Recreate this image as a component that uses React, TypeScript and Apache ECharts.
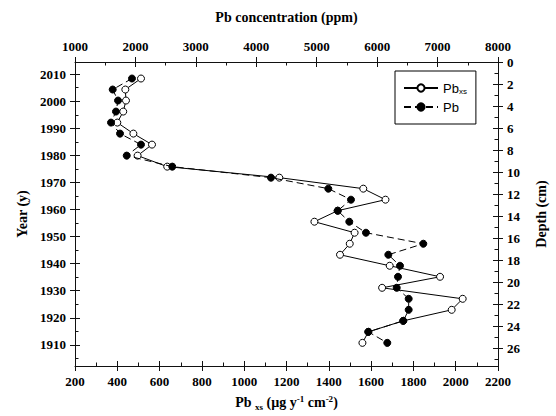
import React, { useEffect, useRef } from "react";
import * as echarts from "echarts";

// Sample mid-depths of the core slices (cm)
const depths = [
  1.5, 2.5, 3.5, 4.5, 5.5, 6.5, 7.5, 8.5, 9.5, 10.5, 11.5, 12.5, 13.5,
  14.5, 15.5, 16.5, 17.5, 18.5, 19.5, 20.5, 21.5, 22.5, 23.5, 24.5, 25.5,
];

// Excess Pb flux (µg y-1 cm-2), bottom axis
const pbxsFlux = [
  512, 438, 441, 428, 400, 476, 564, 496, 636, 1166, 1563, 1668, 1442,
  1332, 1522, 1499, 1453, 1688, 1926, 1652, 2033, 1981, 1752, 1587, 1559,
];

// Total Pb concentration (ppm), top axis
const pbConc = [
  1943, 1624, 1712, 1678, 1596, 1745, 2092, 1856, 2610, 4243, 5192, 5567,
  5347, 5539, 5815, 6764, 6185, 6378, 6345, 6324, 6522, 6522, 6433, 5854,
  6168,
];

// Tick values
const fluxTicks = [200, 400, 600, 800, 1000, 1200, 1400, 1600, 1800, 2000, 2200];
const fluxMinor = [300, 500, 700, 900, 1100, 1300, 1500, 1700, 1900, 2100];
const concTicks = [1000, 2000, 3000, 4000, 5000, 6000, 7000, 8000];
const concMinor = [1500, 2500, 3500, 4500, 5500, 6500, 7500];
const yearTicks = [1910, 1920, 1930, 1940, 1950, 1960, 1970, 1980, 1990, 2000, 2010];
const yearMinor = [1905, 1915, 1925, 1935, 1945, 1955, 1965, 1975, 1985, 1995, 2005];
const depthTicks = [0, 2, 4, 6, 8, 10, 12, 14, 16, 18, 20, 22, 24, 26];
const depthMinor = [1, 3, 5, 7, 9, 11, 13, 15, 17, 19, 21, 23, 25, 27];

const SERIF = "'Liberation Serif', 'Times New Roman', serif";
const SANS = "'Liberation Sans', Arial, sans-serif";
const INK = "#111";

const labelStyle = {
  fontFamily: SERIF,
  fontWeight: "bold" as const,
  fontSize: 13,
  color: "#000",
};

const nameStyle = {
  fontFamily: SERIF,
  fontWeight: "bold" as const,
  fontSize: 14,
  color: "#000",
};

// Main axis: line, outward half of major ticks, labels and title
function mainAxis(extra: any, range: [number, number], ticks: number[]) {
  return {
    type: "value",
    min: range[0],
    max: range[1],
    splitLine: { show: false },
    axisLine: { show: true, onZero: false, lineStyle: { color: INK, width: 1 } },
    axisTick: {
      show: true,
      inside: false,
      length: 5,
      customValues: ticks,
      lineStyle: { color: INK, width: 1 },
    },
    axisLabel: {
      ...labelStyle,
      margin: 9,
      customValues: ticks,
      formatter: (v: number) => String(v),
    },
    ...extra,
  };
}

// Overlay axis that only draws inward ticks
function tickAxis(position: string, range: [number, number], ticks: number[], len: number, extra: any = {}) {
  return {
    type: "value",
    position,
    min: range[0],
    max: range[1],
    splitLine: { show: false },
    axisLine: { show: false, onZero: false },
    axisLabel: { show: false },
    axisTick: {
      show: true,
      inside: true,
      length: len,
      customValues: ticks,
      lineStyle: { color: INK, width: 1 },
    },
    ...extra,
  };
}

const fluxRange: [number, number] = [200, 2200];
const concRange: [number, number] = [1000, 8000];
const yearRange: [number, number] = [1902.2, 2014.5];
const depthRange: [number, number] = [0, 27.6];

export default function App() {
  const ref = useRef<HTMLDivElement>(null);

  useEffect(() => {
    if (!ref.current) return;
    const chart = echarts.init(ref.current, undefined, { renderer: "svg" });

    const option: any = {
      animation: false,
      backgroundColor: "#fff",
      grid: { left: 75, right: 58, top: 62, bottom: 48, containLabel: false },
      legend: {
        show: true,
        selectedMode: false,
        orient: "vertical",
        left: 395,
        top: 71,
        itemWidth: 34,
        itemHeight: 9,
        itemGap: 5,
        padding: [10, 9, 10, 8],
        borderColor: "#000",
        borderWidth: 1,
        backgroundColor: "#fff",
        data: ["Pbxs", "Pb"],
        formatter: (name: string) => (name === "Pbxs" ? "Pb{sub|xs}" : name),
        textStyle: {
          fontFamily: SANS,
          fontSize: 13,
          color: "#000",
          lineHeight: 14,
          rich: {
            sub: {
              fontFamily: SANS,
              fontSize: 8,
              color: "#000",
              verticalAlign: "bottom",
              lineHeight: 14,
              padding: [6, 0, 0, 0],
            },
          },
        },
      },
      xAxis: [
        mainAxis(
          {
            position: "bottom",
            name: "Pb {sub|xs} (µg y{sup|-1} cm{sup|-2})",
            nameLocation: "middle",
            nameGap: 28,
            nameTextStyle: {
              ...nameStyle,
              lineHeight: 17,
              rich: {
                sub: { ...nameStyle, fontSize: 9, verticalAlign: "bottom", lineHeight: 17, padding: [7, 0, 0, 0] },
                sup: { ...nameStyle, fontSize: 9, verticalAlign: "top", lineHeight: 17, padding: [0, 0, 7, 0] },
              },
            },
          },
          fluxRange,
          fluxTicks
        ),
        tickAxis("bottom", fluxRange, fluxTicks, 5),
        tickAxis("bottom", fluxRange, fluxMinor, 3.5),
        mainAxis(
          {
            position: "top",
            name: "Pb concentration (ppm)",
            nameLocation: "middle",
            nameGap: 38,
            nameTextStyle: nameStyle,
          },
          concRange,
          concTicks
        ),
        tickAxis("top", concRange, concTicks, 5),
        tickAxis("top", concRange, concMinor, 3.5),
      ],
      yAxis: [
        mainAxis(
          {
            position: "left",
            name: "Year (y)",
            nameLocation: "middle",
            nameRotate: 90,
            nameGap: 46,
            nameTextStyle: nameStyle,
          },
          yearRange,
          yearTicks
        ),
        tickAxis("left", yearRange, yearTicks, 5),
        tickAxis("left", yearRange, yearMinor, 3.5),
        mainAxis(
          {
            position: "right",
            inverse: true,
            name: "Depth (cm)",
            nameLocation: "middle",
            nameRotate: 90,
            nameGap: 36,
            nameTextStyle: nameStyle,
          },
          depthRange,
          depthTicks
        ),
        tickAxis("right", depthRange, depthTicks, 5, { inverse: true }),
        tickAxis("right", depthRange, depthMinor, 3.5, { inverse: true }),
      ],
      series: [
        {
          name: "Pbxs",
          type: "line",
          xAxisIndex: 0,
          yAxisIndex: 3,
          data: depths.map((d, i) => [pbxsFlux[i], d]),
          symbol: "circle",
          symbolSize: 7,
          showSymbol: true,
          lineStyle: { color: "#000", width: 1 },
          itemStyle: { color: "#fff", borderColor: "#000", borderWidth: 1 },
          emphasis: { disabled: true },
          z: 2,
        },
        {
          name: "Pb",
          type: "line",
          xAxisIndex: 3,
          yAxisIndex: 3,
          data: depths.map((d, i) => [pbConc[i], d]),
          symbol: "circle",
          symbolSize: 7,
          showSymbol: true,
          lineStyle: { color: "#000", width: 1, type: [7, 4] },
          itemStyle: { color: "#000", borderColor: "#000", borderWidth: 1 },
          emphasis: { disabled: true },
          z: 3,
        },
      ],
    };

    chart.setOption(option);
    return () => chart.dispose();
  }, []);

  return (
    <div
      ref={ref}
      style={{ position: "fixed", left: 0, top: 0, width: 556, height: 416, background: "#fff" }}
    />
  );
}
